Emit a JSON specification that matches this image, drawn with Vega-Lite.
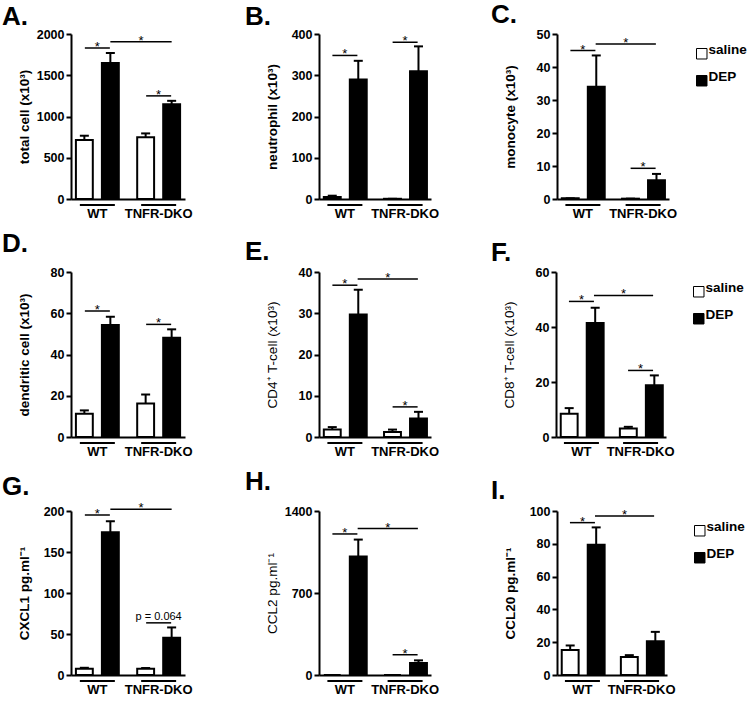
{
"$schema": "https://vega.github.io/schema/vega-lite/v6.json",
"padding": {"left": 2, "top": 2, "right": 0, "bottom": 0},
"spacing": 11,
"datasets": {
"bars": [
{"panel":"A","group":"WT","treatment":"saline","mean":715,"upper":767},
{"panel":"A","group":"WT","treatment":"DEP","mean":1650,"upper":1770},
{"panel":"A","group":"TNFR-DKO","treatment":"saline","mean":750,"upper":795},
{"panel":"A","group":"TNFR-DKO","treatment":"DEP","mean":1150,"upper":1190},
{"panel":"B","group":"WT","treatment":"saline","mean":5,"upper":8},
{"panel":"B","group":"WT","treatment":"DEP","mean":290,"upper":335},
{"panel":"B","group":"TNFR-DKO","treatment":"saline","mean":0.5,"upper":0.5},
{"panel":"B","group":"TNFR-DKO","treatment":"DEP","mean":310,"upper":370},
{"panel":"C","group":"WT","treatment":"saline","mean":0.2,"upper":0.2},
{"panel":"C","group":"WT","treatment":"DEP","mean":34,"upper":43.5},
{"panel":"C","group":"TNFR-DKO","treatment":"saline","mean":0.1,"upper":0.1},
{"panel":"C","group":"TNFR-DKO","treatment":"DEP","mean":5.7,"upper":7.6},
{"panel":"D","group":"WT","treatment":"saline","mean":11.3,"upper":12.9},
{"panel":"D","group":"WT","treatment":"DEP","mean":54.3,"upper":58.3},
{"panel":"D","group":"TNFR-DKO","treatment":"saline","mean":16.2,"upper":20.6},
{"panel":"D","group":"TNFR-DKO","treatment":"DEP","mean":48.1,"upper":52.2},
{"panel":"E","group":"WT","treatment":"saline","mean":1.8,"upper":2.4},
{"panel":"E","group":"WT","treatment":"DEP","mean":29.7,"upper":35.7},
{"panel":"E","group":"TNFR-DKO","treatment":"saline","mean":1.2,"upper":1.8},
{"panel":"E","group":"TNFR-DKO","treatment":"DEP","mean":4.5,"upper":6.1},
{"panel":"F","group":"WT","treatment":"saline","mean":8.5,"upper":10.5},
{"panel":"F","group":"WT","treatment":"DEP","mean":41.5,"upper":47},
{"panel":"F","group":"TNFR-DKO","treatment":"saline","mean":3.1,"upper":3.7},
{"panel":"F","group":"TNFR-DKO","treatment":"DEP","mean":18.8,"upper":22.4},
{"panel":"G","group":"WT","treatment":"saline","mean":7.5,"upper":8.8},
{"panel":"G","group":"WT","treatment":"DEP","mean":174,"upper":187.5},
{"panel":"G","group":"TNFR-DKO","treatment":"saline","mean":7.5,"upper":8.5},
{"panel":"G","group":"TNFR-DKO","treatment":"DEP","mean":45.5,"upper":58},
{"panel":"H","group":"WT","treatment":"saline","mean":0,"upper":0},
{"panel":"H","group":"WT","treatment":"DEP","mean":1011,"upper":1156},
{"panel":"H","group":"TNFR-DKO","treatment":"saline","mean":0,"upper":0},
{"panel":"H","group":"TNFR-DKO","treatment":"DEP","mean":102,"upper":125},
{"panel":"I","group":"WT","treatment":"saline","mean":15.2,"upper":18},
{"panel":"I","group":"WT","treatment":"DEP","mean":79.4,"upper":90},
{"panel":"I","group":"TNFR-DKO","treatment":"saline","mean":10.9,"upper":12.1},
{"panel":"I","group":"TNFR-DKO","treatment":"DEP","mean":20.6,"upper":26.3}
],
"sig": [
{"panel":"A","kind":"w","group":"WT","y":1830,"label":"*"},
{"panel":"A","kind":"b","group":"WT","to":"TNFR-DKO","y":1905,"label":"*"},
{"panel":"A","kind":"w","group":"TNFR-DKO","y":1250,"label":"*"},
{"panel":"B","kind":"w","group":"WT","y":348,"label":"*"},
{"panel":"B","kind":"w","group":"TNFR-DKO","y":380,"label":"*"},
{"panel":"C","kind":"w","group":"WT","y":45,"label":"*"},
{"panel":"C","kind":"b","group":"WT","to":"TNFR-DKO","y":47,"label":"*"},
{"panel":"C","kind":"w","group":"TNFR-DKO","y":9.3,"label":"*"},
{"panel":"D","kind":"w","group":"WT","y":61.1,"label":"*"},
{"panel":"D","kind":"w","group":"TNFR-DKO","y":54.6,"label":"*"},
{"panel":"E","kind":"w","group":"WT","y":36.8,"label":"*"},
{"panel":"E","kind":"b","group":"WT","to":"TNFR-DKO","y":38.3,"label":"*"},
{"panel":"E","kind":"w","group":"TNFR-DKO","y":7.3,"label":"*"},
{"panel":"F","kind":"w","group":"WT","y":49.3,"label":"*"},
{"panel":"F","kind":"b","group":"WT","to":"TNFR-DKO","y":51.5,"label":"*"},
{"panel":"F","kind":"w","group":"TNFR-DKO","y":24.2,"label":"*"},
{"panel":"G","kind":"w","group":"WT","y":195,"label":"*"},
{"panel":"G","kind":"b","group":"WT","to":"TNFR-DKO","y":202,"label":"*"},
{"panel":"G","kind":"w","group":"TNFR-DKO","y":63.6,"label":"p = 0.064"},
{"panel":"H","kind":"w","group":"WT","y":1204,"label":"*"},
{"panel":"H","kind":"b","group":"WT","to":"TNFR-DKO","y":1250,"label":"*"},
{"panel":"H","kind":"w","group":"TNFR-DKO","y":173,"label":"*"},
{"panel":"I","kind":"w","group":"WT","y":92.9,"label":"*"},
{"panel":"I","kind":"b","group":"WT","to":"TNFR-DKO","y":97,"label":"*"}
],
"groups": [{"group":"WT"},{"group":"TNFR-DKO"}]
},
"config": {
"view": {"stroke": null},
"font": "Liberation Sans",
"axis": {"domainColor":"black","domainWidth":2,"tickColor":"black","tickWidth":2,"labelColor":"black","titleColor":"black","labelFont":"Liberation Sans","titleFont":"Liberation Sans","labelFontWeight":"bold","grid":false},
"axisX": {"ticks": false,"tickSize":0,"labelFontSize":13,"labelPadding":8,"labelAngle":0},
"axisY": {"tickSize":5,"labelFontSize":12.5,"labelPadding":2,"titleFontSize":13.5,"titleFontWeight":"bold","titleX":-40,"titleBaseline":"bottom","tickCount":12,"format":"d"},
"title": {"fontSize":26,"fontWeight":"bold","anchor":"start","frame":"group","color":"black","font":"Liberation Sans","baseline":"alphabetic"},
"text": {"color":"black","font":"Liberation Sans"}
},
"resolve": {"scale": {"fill": "independent"}, "legend": {"fill": "independent"}},
"vconcat": [
{"spacing": 52, "resolve": {"scale": {"fill": "independent"}, "legend": {"fill": "independent"}},
"hconcat": [
{"width":114,"height":165,"title":{"text":"A.","dx":-69,"offset":-2},
"layer":[
{"data":{"name":"bars"},"transform":[{"filter":"datum.panel === 'A'"}],"mark":{"type":"bar","stroke":"black","strokeWidth":2,"opacity":1},
"encoding":{"x":{"field":"group","type":"nominal","scale":{"domain":["WT","TNFR-DKO"],"paddingInner":0.3,"paddingOuter":0.08},"axis":{"title":null}},
"xOffset":{"field":"treatment","type":"nominal","scale":{"domain":["saline","DEP"],"paddingInner":0.35,"paddingOuter":0}},
"y":{"field":"mean","type":"quantitative","scale":{"domain":[0,2000],"nice":false},"axis":{"title":"total cell (x10³)","values":[0,500,1000,1500,2000]}},
"fill":{"field":"treatment","type":"nominal","scale":{"domain":["saline","DEP"],"range":["white","black"]},"legend":null}}},
{"data":{"name":"bars"},"transform":[{"filter":"datum.panel === 'A'"}],"mark":{"type":"rule","color":"black","strokeWidth":2},
"encoding":{"x":{"field":"group","type":"nominal"},"xOffset":{"field":"treatment","type":"nominal"},"y":{"field":"mean","type":"quantitative"},"y2":{"field":"upper"}}},
{"data":{"name":"bars"},"transform":[{"filter":"datum.panel === 'A'"}],"mark":{"type":"tick","color":"black","thickness":2,"size":9,"opacity":1},
"encoding":{"x":{"field":"group","type":"nominal"},"xOffset":{"field":"treatment","type":"nominal"},"y":{"field":"upper","type":"quantitative"}}},
{"data":{"name":"sig"},"transform":[{"filter":"datum.panel === 'A' && datum.kind === 'w'"}],"mark":{"type":"tick","color":"black","thickness":1.5,"size":25,"opacity":1},
"encoding":{"x":{"field":"group","type":"nominal"},"y":{"field":"y","type":"quantitative"}}},
{"data":{"name":"sig"},"transform":[{"filter":"datum.panel === 'A' && datum.label === '*' && datum.kind === 'w'"}],"mark":{"type":"text","fontSize":13,"baseline":"alphabetic","dy":3},
"encoding":{"x":{"field":"group","type":"nominal"},"y":{"field":"y","type":"quantitative"},"text":{"field":"label"}}},
{"data":{"name":"sig"},"transform":[{"filter":"datum.panel === 'A' && datum.kind === 'b'"}],"mark":{"type":"rule","color":"black","strokeWidth":1.5},
"encoding":{"x":{"field":"group","type":"nominal","bandPosition":0.803},"x2":{"field":"to","bandPosition":0.803},"y":{"field":"y","type":"quantitative"}}},
{"data":{"name":"sig"},"transform":[{"filter":"datum.panel === 'A' && datum.kind === 'b'"}],"mark":{"type":"text","fontSize":13,"baseline":"alphabetic","dy":3},
"encoding":{"x":{"field":"group","type":"nominal","bandPosition":1.517},"y":{"field":"y","type":"quantitative"},"text":{"field":"label"}}},
{"data":{"name":"groups"},"mark":{"type":"tick","color":"black","thickness":2,"size":35,"yOffset":6,"opacity":1},
"encoding":{"x":{"field":"group","type":"nominal"},"y":{"datum":0,"type":"quantitative"}}}
]},
{"width":112,"height":165,"title":{"text":"B.","dx":-74,"offset":-2},
"layer":[
{"data":{"name":"bars"},"transform":[{"filter":"datum.panel === 'B'"}],"mark":{"type":"bar","stroke":"black","strokeWidth":2,"opacity":1},
"encoding":{"x":{"field":"group","type":"nominal","scale":{"domain":["WT","TNFR-DKO"],"paddingInner":0.3,"paddingOuter":0.08},"axis":{"title":null}},
"xOffset":{"field":"treatment","type":"nominal","scale":{"domain":["saline","DEP"],"paddingInner":0.35,"paddingOuter":0}},
"y":{"field":"mean","type":"quantitative","scale":{"domain":[0,400],"nice":false},"axis":{"title":"neutrophil (x10³)","values":[0,100,200,300,400]}},
"fill":{"field":"treatment","type":"nominal","scale":{"domain":["saline","DEP"],"range":["white","black"]},"legend":null}}},
{"data":{"name":"bars"},"transform":[{"filter":"datum.panel === 'B'"}],"mark":{"type":"rule","color":"black","strokeWidth":2},
"encoding":{"x":{"field":"group","type":"nominal"},"xOffset":{"field":"treatment","type":"nominal"},"y":{"field":"mean","type":"quantitative"},"y2":{"field":"upper"}}},
{"data":{"name":"bars"},"transform":[{"filter":"datum.panel === 'B'"}],"mark":{"type":"tick","color":"black","thickness":2,"size":9,"opacity":1},
"encoding":{"x":{"field":"group","type":"nominal"},"xOffset":{"field":"treatment","type":"nominal"},"y":{"field":"upper","type":"quantitative"}}},
{"data":{"name":"sig"},"transform":[{"filter":"datum.panel === 'B' && datum.kind === 'w'"}],"mark":{"type":"tick","color":"black","thickness":1.5,"size":25,"opacity":1},
"encoding":{"x":{"field":"group","type":"nominal"},"y":{"field":"y","type":"quantitative"}}},
{"data":{"name":"sig"},"transform":[{"filter":"datum.panel === 'B' && datum.label === '*' && datum.kind === 'w'"}],"mark":{"type":"text","fontSize":13,"baseline":"alphabetic","dy":3},
"encoding":{"x":{"field":"group","type":"nominal"},"y":{"field":"y","type":"quantitative"},"text":{"field":"label"}}},
{"data":{"name":"groups"},"mark":{"type":"tick","color":"black","thickness":2,"size":35,"yOffset":6,"opacity":1},
"encoding":{"x":{"field":"group","type":"nominal"},"y":{"datum":0,"type":"quantitative"}}}
]},
{"width":112,"height":165,"title":{"text":"C.","dx":-66,"offset":0},
"layer":[
{"data":{"name":"bars"},"transform":[{"filter":"datum.panel === 'C'"}],"mark":{"type":"bar","stroke":"black","strokeWidth":2,"opacity":1},
"encoding":{"x":{"field":"group","type":"nominal","scale":{"domain":["WT","TNFR-DKO"],"paddingInner":0.3,"paddingOuter":0.08},"axis":{"title":null}},
"xOffset":{"field":"treatment","type":"nominal","scale":{"domain":["saline","DEP"],"paddingInner":0.35,"paddingOuter":0}},
"y":{"field":"mean","type":"quantitative","scale":{"domain":[0,50],"nice":false},"axis":{"title":"monocyte (x10³)","values":[0,10,20,30,40,50]}},
"fill":{"field":"treatment","type":"nominal","scale":{"domain":["saline","DEP"],"range":["white","black"]},"legend":{"title":null,"orient":"right","offset":13,"padding":13,"symbolType":"square","symbolSize":110,"symbolStrokeColor":"black","symbolStrokeWidth":1,"labelFontSize":13.5,"labelFontWeight":"bold","labelBaseline":"alphabetic","rowPadding":8,"labelOffset":0,"labelColor":"black","labelFont":"Liberation Sans"}}}},
{"data":{"name":"bars"},"transform":[{"filter":"datum.panel === 'C'"}],"mark":{"type":"rule","color":"black","strokeWidth":2},
"encoding":{"x":{"field":"group","type":"nominal"},"xOffset":{"field":"treatment","type":"nominal"},"y":{"field":"mean","type":"quantitative"},"y2":{"field":"upper"}}},
{"data":{"name":"bars"},"transform":[{"filter":"datum.panel === 'C'"}],"mark":{"type":"tick","color":"black","thickness":2,"size":9,"opacity":1},
"encoding":{"x":{"field":"group","type":"nominal"},"xOffset":{"field":"treatment","type":"nominal"},"y":{"field":"upper","type":"quantitative"}}},
{"data":{"name":"sig"},"transform":[{"filter":"datum.panel === 'C' && datum.kind === 'w'"}],"mark":{"type":"tick","color":"black","thickness":1.5,"size":25,"opacity":1},
"encoding":{"x":{"field":"group","type":"nominal"},"y":{"field":"y","type":"quantitative"}}},
{"data":{"name":"sig"},"transform":[{"filter":"datum.panel === 'C' && datum.label === '*' && datum.kind === 'w'"}],"mark":{"type":"text","fontSize":13,"baseline":"alphabetic","dy":3},
"encoding":{"x":{"field":"group","type":"nominal"},"y":{"field":"y","type":"quantitative"},"text":{"field":"label"}}},
{"data":{"name":"sig"},"transform":[{"filter":"datum.panel === 'C' && datum.kind === 'b'"}],"mark":{"type":"rule","color":"black","strokeWidth":1.5},
"encoding":{"x":{"field":"group","type":"nominal","bandPosition":0.803},"x2":{"field":"to","bandPosition":0.803},"y":{"field":"y","type":"quantitative"}}},
{"data":{"name":"sig"},"transform":[{"filter":"datum.panel === 'C' && datum.kind === 'b'"}],"mark":{"type":"text","fontSize":13,"baseline":"alphabetic","dy":3},
"encoding":{"x":{"field":"group","type":"nominal","bandPosition":1.517},"y":{"field":"y","type":"quantitative"},"text":{"field":"label"}}},
{"data":{"name":"groups"},"mark":{"type":"tick","color":"black","thickness":2,"size":35,"yOffset":6,"opacity":1},
"encoding":{"x":{"field":"group","type":"nominal"},"y":{"datum":0,"type":"quantitative"}}}
]}
]},
{"spacing": 52, "resolve": {"scale": {"fill": "independent"}, "legend": {"fill": "independent"}},
"hconcat": [
{"width":114,"height":165,"title":{"text":"D.","dx":-69,"offset":9},
"layer":[
{"data":{"name":"bars"},"transform":[{"filter":"datum.panel === 'D'"}],"mark":{"type":"bar","stroke":"black","strokeWidth":2,"opacity":1},
"encoding":{"x":{"field":"group","type":"nominal","scale":{"domain":["WT","TNFR-DKO"],"paddingInner":0.3,"paddingOuter":0.08},"axis":{"title":null}},
"xOffset":{"field":"treatment","type":"nominal","scale":{"domain":["saline","DEP"],"paddingInner":0.35,"paddingOuter":0}},
"y":{"field":"mean","type":"quantitative","scale":{"domain":[0,80],"nice":false},"axis":{"title":"dendritic cell (x10³)","values":[0,20,40,60,80]}},
"fill":{"field":"treatment","type":"nominal","scale":{"domain":["saline","DEP"],"range":["white","black"]},"legend":null}}},
{"data":{"name":"bars"},"transform":[{"filter":"datum.panel === 'D'"}],"mark":{"type":"rule","color":"black","strokeWidth":2},
"encoding":{"x":{"field":"group","type":"nominal"},"xOffset":{"field":"treatment","type":"nominal"},"y":{"field":"mean","type":"quantitative"},"y2":{"field":"upper"}}},
{"data":{"name":"bars"},"transform":[{"filter":"datum.panel === 'D'"}],"mark":{"type":"tick","color":"black","thickness":2,"size":9,"opacity":1},
"encoding":{"x":{"field":"group","type":"nominal"},"xOffset":{"field":"treatment","type":"nominal"},"y":{"field":"upper","type":"quantitative"}}},
{"data":{"name":"sig"},"transform":[{"filter":"datum.panel === 'D' && datum.kind === 'w'"}],"mark":{"type":"tick","color":"black","thickness":1.5,"size":25,"opacity":1},
"encoding":{"x":{"field":"group","type":"nominal"},"y":{"field":"y","type":"quantitative"}}},
{"data":{"name":"sig"},"transform":[{"filter":"datum.panel === 'D' && datum.label === '*' && datum.kind === 'w'"}],"mark":{"type":"text","fontSize":13,"baseline":"alphabetic","dy":3},
"encoding":{"x":{"field":"group","type":"nominal"},"y":{"field":"y","type":"quantitative"},"text":{"field":"label"}}},
{"data":{"name":"groups"},"mark":{"type":"tick","color":"black","thickness":2,"size":35,"yOffset":6,"opacity":1},
"encoding":{"x":{"field":"group","type":"nominal"},"y":{"datum":0,"type":"quantitative"}}}
]},
{"width":112,"height":165,"title":{"text":"E.","dx":-74,"offset":1},
"layer":[
{"data":{"name":"bars"},"transform":[{"filter":"datum.panel === 'E'"}],"mark":{"type":"bar","stroke":"black","strokeWidth":2,"opacity":1},
"encoding":{"x":{"field":"group","type":"nominal","scale":{"domain":["WT","TNFR-DKO"],"paddingInner":0.3,"paddingOuter":0.08},"axis":{"title":null}},
"xOffset":{"field":"treatment","type":"nominal","scale":{"domain":["saline","DEP"],"paddingInner":0.35,"paddingOuter":0}},
"y":{"field":"mean","type":"quantitative","scale":{"domain":[0,40],"nice":false},"axis":{"title":"CD4⁺ T-cell (x10³)","titleFontWeight":"normal","values":[0,10,20,30,40]}},
"fill":{"field":"treatment","type":"nominal","scale":{"domain":["saline","DEP"],"range":["white","black"]},"legend":null}}},
{"data":{"name":"bars"},"transform":[{"filter":"datum.panel === 'E'"}],"mark":{"type":"rule","color":"black","strokeWidth":2},
"encoding":{"x":{"field":"group","type":"nominal"},"xOffset":{"field":"treatment","type":"nominal"},"y":{"field":"mean","type":"quantitative"},"y2":{"field":"upper"}}},
{"data":{"name":"bars"},"transform":[{"filter":"datum.panel === 'E'"}],"mark":{"type":"tick","color":"black","thickness":2,"size":9,"opacity":1},
"encoding":{"x":{"field":"group","type":"nominal"},"xOffset":{"field":"treatment","type":"nominal"},"y":{"field":"upper","type":"quantitative"}}},
{"data":{"name":"sig"},"transform":[{"filter":"datum.panel === 'E' && datum.kind === 'w'"}],"mark":{"type":"tick","color":"black","thickness":1.5,"size":25,"opacity":1},
"encoding":{"x":{"field":"group","type":"nominal"},"y":{"field":"y","type":"quantitative"}}},
{"data":{"name":"sig"},"transform":[{"filter":"datum.panel === 'E' && datum.label === '*' && datum.kind === 'w'"}],"mark":{"type":"text","fontSize":13,"baseline":"alphabetic","dy":3},
"encoding":{"x":{"field":"group","type":"nominal"},"y":{"field":"y","type":"quantitative"},"text":{"field":"label"}}},
{"data":{"name":"sig"},"transform":[{"filter":"datum.panel === 'E' && datum.kind === 'b'"}],"mark":{"type":"rule","color":"black","strokeWidth":1.5},
"encoding":{"x":{"field":"group","type":"nominal","bandPosition":0.803},"x2":{"field":"to","bandPosition":0.803},"y":{"field":"y","type":"quantitative"}}},
{"data":{"name":"sig"},"transform":[{"filter":"datum.panel === 'E' && datum.kind === 'b'"}],"mark":{"type":"text","fontSize":13,"baseline":"alphabetic","dy":3},
"encoding":{"x":{"field":"group","type":"nominal","bandPosition":1.517},"y":{"field":"y","type":"quantitative"},"text":{"field":"label"}}},
{"data":{"name":"groups"},"mark":{"type":"tick","color":"black","thickness":2,"size":35,"yOffset":6,"opacity":1},
"encoding":{"x":{"field":"group","type":"nominal"},"y":{"datum":0,"type":"quantitative"}}}
]},
{"width":110,"height":165,"title":{"text":"F.","dx":-65,"offset":0},
"layer":[
{"data":{"name":"bars"},"transform":[{"filter":"datum.panel === 'F'"}],"mark":{"type":"bar","stroke":"black","strokeWidth":2,"opacity":1},
"encoding":{"x":{"field":"group","type":"nominal","scale":{"domain":["WT","TNFR-DKO"],"paddingInner":0.3,"paddingOuter":0.08},"axis":{"title":null}},
"xOffset":{"field":"treatment","type":"nominal","scale":{"domain":["saline","DEP"],"paddingInner":0.35,"paddingOuter":0}},
"y":{"field":"mean","type":"quantitative","scale":{"domain":[0,60],"nice":false},"axis":{"title":"CD8⁺ T-cell (x10³)","titleFontWeight":"normal","values":[0,20,40,60]}},
"fill":{"field":"treatment","type":"nominal","scale":{"domain":["saline","DEP"],"range":["white","black"]},"legend":{"title":null,"orient":"right","offset":13,"padding":13,"symbolType":"square","symbolSize":110,"symbolStrokeColor":"black","symbolStrokeWidth":1,"labelFontSize":13.5,"labelFontWeight":"bold","labelBaseline":"alphabetic","rowPadding":8,"labelOffset":0,"labelColor":"black","labelFont":"Liberation Sans"}}}},
{"data":{"name":"bars"},"transform":[{"filter":"datum.panel === 'F'"}],"mark":{"type":"rule","color":"black","strokeWidth":2},
"encoding":{"x":{"field":"group","type":"nominal"},"xOffset":{"field":"treatment","type":"nominal"},"y":{"field":"mean","type":"quantitative"},"y2":{"field":"upper"}}},
{"data":{"name":"bars"},"transform":[{"filter":"datum.panel === 'F'"}],"mark":{"type":"tick","color":"black","thickness":2,"size":9,"opacity":1},
"encoding":{"x":{"field":"group","type":"nominal"},"xOffset":{"field":"treatment","type":"nominal"},"y":{"field":"upper","type":"quantitative"}}},
{"data":{"name":"sig"},"transform":[{"filter":"datum.panel === 'F' && datum.kind === 'w'"}],"mark":{"type":"tick","color":"black","thickness":1.5,"size":25,"opacity":1},
"encoding":{"x":{"field":"group","type":"nominal"},"y":{"field":"y","type":"quantitative"}}},
{"data":{"name":"sig"},"transform":[{"filter":"datum.panel === 'F' && datum.label === '*' && datum.kind === 'w'"}],"mark":{"type":"text","fontSize":13,"baseline":"alphabetic","dy":3},
"encoding":{"x":{"field":"group","type":"nominal"},"y":{"field":"y","type":"quantitative"},"text":{"field":"label"}}},
{"data":{"name":"sig"},"transform":[{"filter":"datum.panel === 'F' && datum.kind === 'b'"}],"mark":{"type":"rule","color":"black","strokeWidth":1.5},
"encoding":{"x":{"field":"group","type":"nominal","bandPosition":0.803},"x2":{"field":"to","bandPosition":0.803},"y":{"field":"y","type":"quantitative"}}},
{"data":{"name":"sig"},"transform":[{"filter":"datum.panel === 'F' && datum.kind === 'b'"}],"mark":{"type":"text","fontSize":13,"baseline":"alphabetic","dy":3},
"encoding":{"x":{"field":"group","type":"nominal","bandPosition":1.517},"y":{"field":"y","type":"quantitative"},"text":{"field":"label"}}},
{"data":{"name":"groups"},"mark":{"type":"tick","color":"black","thickness":2,"size":35,"yOffset":6,"opacity":1},
"encoding":{"x":{"field":"group","type":"nominal"},"y":{"datum":0,"type":"quantitative"}}}
]}
]},
{"spacing": 52, "resolve": {"scale": {"fill": "independent"}, "legend": {"fill": "independent"}},
"hconcat": [
{"width":114,"height":164,"title":{"text":"G.","dx":-69,"offset":2},
"layer":[
{"data":{"name":"bars"},"transform":[{"filter":"datum.panel === 'G'"}],"mark":{"type":"bar","stroke":"black","strokeWidth":2,"opacity":1},
"encoding":{"x":{"field":"group","type":"nominal","scale":{"domain":["WT","TNFR-DKO"],"paddingInner":0.3,"paddingOuter":0.08},"axis":{"title":null}},
"xOffset":{"field":"treatment","type":"nominal","scale":{"domain":["saline","DEP"],"paddingInner":0.35,"paddingOuter":0}},
"y":{"field":"mean","type":"quantitative","scale":{"domain":[0,200],"nice":false},"axis":{"title":"CXCL1 pg.ml⁻¹","values":[0,50,100,150,200]}},
"fill":{"field":"treatment","type":"nominal","scale":{"domain":["saline","DEP"],"range":["white","black"]},"legend":null}}},
{"data":{"name":"bars"},"transform":[{"filter":"datum.panel === 'G'"}],"mark":{"type":"rule","color":"black","strokeWidth":2},
"encoding":{"x":{"field":"group","type":"nominal"},"xOffset":{"field":"treatment","type":"nominal"},"y":{"field":"mean","type":"quantitative"},"y2":{"field":"upper"}}},
{"data":{"name":"bars"},"transform":[{"filter":"datum.panel === 'G'"}],"mark":{"type":"tick","color":"black","thickness":2,"size":9,"opacity":1},
"encoding":{"x":{"field":"group","type":"nominal"},"xOffset":{"field":"treatment","type":"nominal"},"y":{"field":"upper","type":"quantitative"}}},
{"data":{"name":"sig"},"transform":[{"filter":"datum.panel === 'G' && datum.kind === 'w'"}],"mark":{"type":"tick","color":"black","thickness":1.5,"size":25,"opacity":1},
"encoding":{"x":{"field":"group","type":"nominal"},"y":{"field":"y","type":"quantitative"}}},
{"data":{"name":"sig"},"transform":[{"filter":"datum.panel === 'G' && datum.label === '*' && datum.kind === 'w'"}],"mark":{"type":"text","fontSize":13,"baseline":"alphabetic","dy":3},
"encoding":{"x":{"field":"group","type":"nominal"},"y":{"field":"y","type":"quantitative"},"text":{"field":"label"}}},
{"data":{"name":"sig"},"transform":[{"filter":"datum.panel === 'G' && datum.label !== '*' && datum.kind === 'w'"}],"mark":{"type":"text","fontSize":11,"baseline":"alphabetic","dy":-3},
"encoding":{"x":{"field":"group","type":"nominal"},"y":{"field":"y","type":"quantitative"},"text":{"field":"label"}}},
{"data":{"name":"sig"},"transform":[{"filter":"datum.panel === 'G' && datum.kind === 'b'"}],"mark":{"type":"rule","color":"black","strokeWidth":1.5},
"encoding":{"x":{"field":"group","type":"nominal","bandPosition":0.803},"x2":{"field":"to","bandPosition":0.803},"y":{"field":"y","type":"quantitative"}}},
{"data":{"name":"sig"},"transform":[{"filter":"datum.panel === 'G' && datum.kind === 'b'"}],"mark":{"type":"text","fontSize":13,"baseline":"alphabetic","dy":3},
"encoding":{"x":{"field":"group","type":"nominal","bandPosition":1.517},"y":{"field":"y","type":"quantitative"},"text":{"field":"label"}}},
{"data":{"name":"groups"},"mark":{"type":"tick","color":"black","thickness":2,"size":35,"yOffset":6,"opacity":1},
"encoding":{"x":{"field":"group","type":"nominal"},"y":{"datum":0,"type":"quantitative"}}}
]},
{"width":112,"height":164,"title":{"text":"H.","dx":-74,"offset":10},
"layer":[
{"data":{"name":"bars"},"transform":[{"filter":"datum.panel === 'H'"}],"mark":{"type":"bar","stroke":"black","strokeWidth":2,"opacity":1},
"encoding":{"x":{"field":"group","type":"nominal","scale":{"domain":["WT","TNFR-DKO"],"paddingInner":0.3,"paddingOuter":0.08},"axis":{"title":null}},
"xOffset":{"field":"treatment","type":"nominal","scale":{"domain":["saline","DEP"],"paddingInner":0.35,"paddingOuter":0}},
"y":{"field":"mean","type":"quantitative","scale":{"domain":[0,1400],"nice":false},"axis":{"title":"CCL2 pg.ml⁻¹","titleFontWeight":"normal","values":[0,700,1400]}},
"fill":{"field":"treatment","type":"nominal","scale":{"domain":["saline","DEP"],"range":["white","black"]},"legend":null}}},
{"data":{"name":"bars"},"transform":[{"filter":"datum.panel === 'H'"}],"mark":{"type":"rule","color":"black","strokeWidth":2},
"encoding":{"x":{"field":"group","type":"nominal"},"xOffset":{"field":"treatment","type":"nominal"},"y":{"field":"mean","type":"quantitative"},"y2":{"field":"upper"}}},
{"data":{"name":"bars"},"transform":[{"filter":"datum.panel === 'H' && datum.treatment === 'DEP'"}],"mark":{"type":"tick","color":"black","thickness":2,"size":9,"opacity":1},
"encoding":{"x":{"field":"group","type":"nominal"},"xOffset":{"field":"treatment","type":"nominal"},"y":{"field":"upper","type":"quantitative"}}},
{"data":{"name":"sig"},"transform":[{"filter":"datum.panel === 'H' && datum.kind === 'w'"}],"mark":{"type":"tick","color":"black","thickness":1.5,"size":25,"opacity":1},
"encoding":{"x":{"field":"group","type":"nominal"},"y":{"field":"y","type":"quantitative"}}},
{"data":{"name":"sig"},"transform":[{"filter":"datum.panel === 'H' && datum.label === '*' && datum.kind === 'w'"}],"mark":{"type":"text","fontSize":13,"baseline":"alphabetic","dy":3},
"encoding":{"x":{"field":"group","type":"nominal"},"y":{"field":"y","type":"quantitative"},"text":{"field":"label"}}},
{"data":{"name":"sig"},"transform":[{"filter":"datum.panel === 'H' && datum.kind === 'b'"}],"mark":{"type":"rule","color":"black","strokeWidth":1.5},
"encoding":{"x":{"field":"group","type":"nominal","bandPosition":0.803},"x2":{"field":"to","bandPosition":0.803},"y":{"field":"y","type":"quantitative"}}},
{"data":{"name":"sig"},"transform":[{"filter":"datum.panel === 'H' && datum.kind === 'b'"}],"mark":{"type":"text","fontSize":13,"baseline":"alphabetic","dy":3},
"encoding":{"x":{"field":"group","type":"nominal","bandPosition":1.517},"y":{"field":"y","type":"quantitative"},"text":{"field":"label"}}},
{"data":{"name":"groups"},"mark":{"type":"tick","color":"black","thickness":2,"size":35,"yOffset":6,"opacity":1},
"encoding":{"x":{"field":"group","type":"nominal"},"y":{"datum":0,"type":"quantitative"}}}
]},
{"width":110,"height":164,"title":{"text":"I.","dx":-66,"offset":1},
"layer":[
{"data":{"name":"bars"},"transform":[{"filter":"datum.panel === 'I'"}],"mark":{"type":"bar","stroke":"black","strokeWidth":2,"opacity":1},
"encoding":{"x":{"field":"group","type":"nominal","scale":{"domain":["WT","TNFR-DKO"],"paddingInner":0.3,"paddingOuter":0.08},"axis":{"title":null}},
"xOffset":{"field":"treatment","type":"nominal","scale":{"domain":["saline","DEP"],"paddingInner":0.35,"paddingOuter":0}},
"y":{"field":"mean","type":"quantitative","scale":{"domain":[0,100],"nice":false},"axis":{"title":"CCL20 pg.ml⁻¹","values":[0,20,40,60,80,100]}},
"fill":{"field":"treatment","type":"nominal","scale":{"domain":["saline","DEP"],"range":["white","black"]},"legend":{"title":null,"orient":"right","offset":13,"padding":13,"symbolType":"square","symbolSize":110,"symbolStrokeColor":"black","symbolStrokeWidth":1,"labelFontSize":13.5,"labelFontWeight":"bold","labelBaseline":"alphabetic","rowPadding":8,"labelOffset":0,"labelColor":"black","labelFont":"Liberation Sans"}}}},
{"data":{"name":"bars"},"transform":[{"filter":"datum.panel === 'I'"}],"mark":{"type":"rule","color":"black","strokeWidth":2},
"encoding":{"x":{"field":"group","type":"nominal"},"xOffset":{"field":"treatment","type":"nominal"},"y":{"field":"mean","type":"quantitative"},"y2":{"field":"upper"}}},
{"data":{"name":"bars"},"transform":[{"filter":"datum.panel === 'I'"}],"mark":{"type":"tick","color":"black","thickness":2,"size":9,"opacity":1},
"encoding":{"x":{"field":"group","type":"nominal"},"xOffset":{"field":"treatment","type":"nominal"},"y":{"field":"upper","type":"quantitative"}}},
{"data":{"name":"sig"},"transform":[{"filter":"datum.panel === 'I' && datum.kind === 'w'"}],"mark":{"type":"tick","color":"black","thickness":1.5,"size":25,"opacity":1},
"encoding":{"x":{"field":"group","type":"nominal"},"y":{"field":"y","type":"quantitative"}}},
{"data":{"name":"sig"},"transform":[{"filter":"datum.panel === 'I' && datum.label === '*' && datum.kind === 'w'"}],"mark":{"type":"text","fontSize":13,"baseline":"alphabetic","dy":3},
"encoding":{"x":{"field":"group","type":"nominal"},"y":{"field":"y","type":"quantitative"},"text":{"field":"label"}}},
{"data":{"name":"sig"},"transform":[{"filter":"datum.panel === 'I' && datum.kind === 'b'"}],"mark":{"type":"rule","color":"black","strokeWidth":1.5},
"encoding":{"x":{"field":"group","type":"nominal","bandPosition":0.803},"x2":{"field":"to","bandPosition":0.803},"y":{"field":"y","type":"quantitative"}}},
{"data":{"name":"sig"},"transform":[{"filter":"datum.panel === 'I' && datum.kind === 'b'"}],"mark":{"type":"text","fontSize":13,"baseline":"alphabetic","dy":3},
"encoding":{"x":{"field":"group","type":"nominal","bandPosition":1.517},"y":{"field":"y","type":"quantitative"},"text":{"field":"label"}}},
{"data":{"name":"groups"},"mark":{"type":"tick","color":"black","thickness":2,"size":35,"yOffset":6,"opacity":1},
"encoding":{"x":{"field":"group","type":"nominal"},"y":{"datum":0,"type":"quantitative"}}}
]}
]}
]
}
